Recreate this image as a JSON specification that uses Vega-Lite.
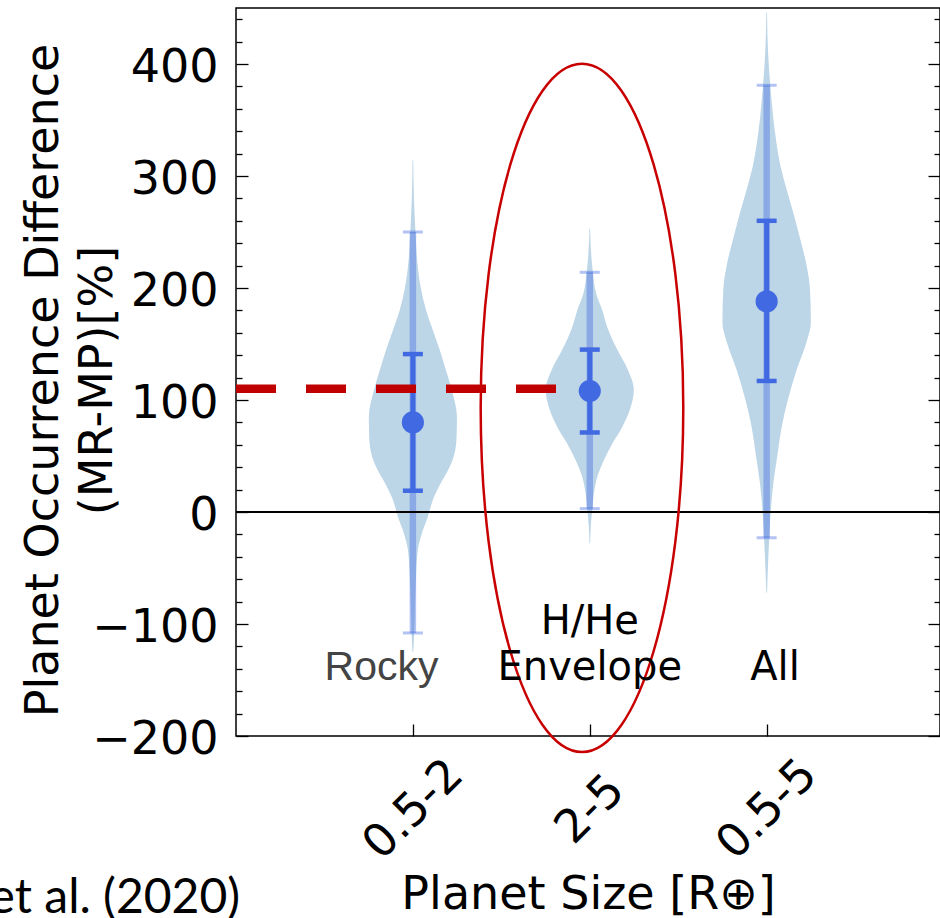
{
  "$schema": "https://vega.github.io/schema/vega-lite/v6.json",
  "width": 704,
  "height": 728,
  "autosize": {"type": "none"},
  "padding": {"left": 236, "top": 8, "right": 0, "bottom": 182},
  "config": {
    "font": "DejaVu Sans",
    "view": {"stroke": "#000", "strokeWidth": 1.5},
    "axis": {
      "grid": false,
      "domain": false,
      "labelFont": "DejaVu Sans",
      "titleFont": "DejaVu Sans",
      "labelColor": "#000",
      "titleColor": "#000",
      "tickColor": "#000",
      "tickWidth": 1.3,
      "labelFontSize": 46,
      "titleFontSize": 46,
      "titleFontWeight": "normal",
      "labelOverlap": false,
      "labelFlush": false
    }
  },
  "resolve": {"axis": {"x": "independent", "y": "independent"}},
  "datasets": {
    "violins": [
      {"g": "0.5-2", "v": 314, "lo": 0.998, "hi": 1.002},
      {"g": "0.5-2", "v": 280, "lo": 0.994, "hi": 1.006},
      {"g": "0.5-2", "v": 252, "lo": 0.986, "hi": 1.014},
      {"g": "0.5-2", "v": 225, "lo": 0.976, "hi": 1.024},
      {"g": "0.5-2", "v": 201, "lo": 0.956, "hi": 1.044},
      {"g": "0.5-2", "v": 180, "lo": 0.925, "hi": 1.075},
      {"g": "0.5-2", "v": 165, "lo": 0.893, "hi": 1.107},
      {"g": "0.5-2", "v": 145, "lo": 0.849, "hi": 1.151},
      {"g": "0.5-2", "v": 127, "lo": 0.814, "hi": 1.186},
      {"g": "0.5-2", "v": 109, "lo": 0.780, "hi": 1.220},
      {"g": "0.5-2", "v": 85, "lo": 0.751, "hi": 1.249},
      {"g": "0.5-2", "v": 67, "lo": 0.753, "hi": 1.247},
      {"g": "0.5-2", "v": 49, "lo": 0.770, "hi": 1.230},
      {"g": "0.5-2", "v": 37, "lo": 0.802, "hi": 1.198},
      {"g": "0.5-2", "v": 26, "lo": 0.842, "hi": 1.158},
      {"g": "0.5-2", "v": 11, "lo": 0.887, "hi": 1.113},
      {"g": "0.5-2", "v": -4, "lo": 0.915, "hi": 1.085},
      {"g": "0.5-2", "v": -19, "lo": 0.949, "hi": 1.051},
      {"g": "0.5-2", "v": -34, "lo": 0.972, "hi": 1.028},
      {"g": "0.5-2", "v": -60, "lo": 0.983, "hi": 1.017},
      {"g": "0.5-2", "v": -90, "lo": 0.989, "hi": 1.011},
      {"g": "0.5-2", "v": -110, "lo": 0.993, "hi": 1.007},
      {"g": "0.5-2", "v": -125, "lo": 0.998, "hi": 1.002},
      {"g": "2-5", "v": 253, "lo": 1.998, "hi": 2.002},
      {"g": "2-5", "v": 230, "lo": 1.992, "hi": 2.008},
      {"g": "2-5", "v": 215, "lo": 1.983, "hi": 2.017},
      {"g": "2-5", "v": 195, "lo": 1.964, "hi": 2.036},
      {"g": "2-5", "v": 180, "lo": 1.929, "hi": 2.071},
      {"g": "2-5", "v": 165, "lo": 1.901, "hi": 2.099},
      {"g": "2-5", "v": 145, "lo": 1.845, "hi": 2.155},
      {"g": "2-5", "v": 127, "lo": 1.785, "hi": 2.215},
      {"g": "2-5", "v": 109, "lo": 1.751, "hi": 2.249},
      {"g": "2-5", "v": 91, "lo": 1.774, "hi": 2.226},
      {"g": "2-5", "v": 76, "lo": 1.816, "hi": 2.184},
      {"g": "2-5", "v": 61, "lo": 1.873, "hi": 2.127},
      {"g": "2-5", "v": 46, "lo": 1.921, "hi": 2.079},
      {"g": "2-5", "v": 31, "lo": 1.958, "hi": 2.042},
      {"g": "2-5", "v": 16, "lo": 1.977, "hi": 2.023},
      {"g": "2-5", "v": 2, "lo": 1.986, "hi": 2.014},
      {"g": "2-5", "v": -12, "lo": 1.994, "hi": 2.006},
      {"g": "2-5", "v": -28, "lo": 1.998, "hi": 2.002},
      {"g": "0.5-5", "v": 446, "lo": 2.998, "hi": 3.002},
      {"g": "0.5-5", "v": 410, "lo": 2.992, "hi": 3.008},
      {"g": "0.5-5", "v": 382, "lo": 2.980, "hi": 3.020},
      {"g": "0.5-5", "v": 351, "lo": 2.962, "hi": 3.038},
      {"g": "0.5-5", "v": 330, "lo": 2.945, "hi": 3.055},
      {"g": "0.5-5", "v": 309, "lo": 2.922, "hi": 3.078},
      {"g": "0.5-5", "v": 288, "lo": 2.887, "hi": 3.113},
      {"g": "0.5-5", "v": 267, "lo": 2.849, "hi": 3.151},
      {"g": "0.5-5", "v": 246, "lo": 2.814, "hi": 3.186},
      {"g": "0.5-5", "v": 220, "lo": 2.774, "hi": 3.226},
      {"g": "0.5-5", "v": 199, "lo": 2.755, "hi": 3.245},
      {"g": "0.5-5", "v": 169, "lo": 2.750, "hi": 3.250},
      {"g": "0.5-5", "v": 152, "lo": 2.774, "hi": 3.226},
      {"g": "0.5-5", "v": 127, "lo": 2.830, "hi": 3.170},
      {"g": "0.5-5", "v": 102, "lo": 2.877, "hi": 3.123},
      {"g": "0.5-5", "v": 76, "lo": 2.915, "hi": 3.085},
      {"g": "0.5-5", "v": 51, "lo": 2.939, "hi": 3.061},
      {"g": "0.5-5", "v": 26, "lo": 2.962, "hi": 3.038},
      {"g": "0.5-5", "v": 0, "lo": 2.977, "hi": 3.023},
      {"g": "0.5-5", "v": -25, "lo": 2.986, "hi": 3.014},
      {"g": "0.5-5", "v": -50, "lo": 2.993, "hi": 3.007},
      {"g": "0.5-5", "v": -72, "lo": 2.998, "hi": 3.002}
    ],
    "stats": [
      {"g": "0.5-2", "c": 1, "mid": 80, "lo1": 19, "hi1": 141, "lo2": -108, "hi2": 250},
      {"g": "2-5", "c": 2, "mid": 108, "lo1": 71, "hi1": 145, "lo2": 3, "hi2": 214},
      {"g": "0.5-5", "c": 3, "mid": 188, "lo1": 117, "hi1": 260, "lo2": -23, "hi2": 381}
    ],
    "zero": [{"y": 0}],
    "refline": [{"x0": 0, "x1": 1.809, "y": 110}],
    "ellipse": [{"cx": 1.956, "cy": 93}],
    "notes": [
      {"label": "H/He", "x": 2.0, "y": -109},
      {"label": "Envelope", "x": 2.0, "y": -150},
      {"label": "All", "x": 3.047, "y": -150}
    ],
    "rocky": [{"label": "Rocky", "x": 0.8225, "y": -150}],
    "cite": [{"label": "et al. (2020)", "x": 0.023, "y": -358}]
  },
  "layer": [
    {
      "data": {"name": "violins"},
      "mark": {"type": "area", "orient": "horizontal", "interpolate": "monotone", "color": "#bcd6e8", "opacity": 1},
      "encoding": {
        "y": {
          "field": "v",
          "type": "quantitative",
          "scale": {"domain": [-200, 450], "nice": false, "zero": false},
          "axis": null
        },
        "x": {
          "field": "lo",
          "type": "quantitative",
          "scale": {"domain": [0, 3.98], "nice": false, "zero": false},
          "axis": null
        },
        "x2": {"field": "hi"},
        "detail": {"field": "g"}
      }
    },
    {
      "data": {"name": "stats"},
      "mark": {"type": "rule", "color": "#4169e1", "opacity": 0.4, "strokeWidth": 6.5},
      "encoding": {
        "x": {"field": "c", "type": "quantitative", "axis": null},
        "y": {
          "field": "lo2",
          "type": "quantitative",
          "axis": {
            "orient": "right",
            "values": [-200, -100, 0, 100, 200, 300, 400],
            "labels": false,
            "title": null,
            "tickSize": -12
          }
        },
        "y2": {"field": "hi2"}
      }
    },
    {
      "data": {"name": "stats"},
      "transform": [{"fold": ["lo2", "hi2"], "as": ["end", "val"]}],
      "mark": {"type": "tick", "orient": "horizontal", "color": "#4169e1", "opacity": 0.4, "size": 20, "thickness": 3},
      "encoding": {
        "x": {"field": "c", "type": "quantitative", "axis": null},
        "y": {
          "field": "val",
          "type": "quantitative",
          "axis": {
            "orient": "right",
            "values": [-180, -160, -140, -120, -80, -60, -40, -20, 20, 40, 60, 80, 120, 140, 160, 180, 220, 240, 260, 280, 320, 340, 360, 380, 420, 440],
            "labels": false,
            "title": null,
            "tickSize": -6
          }
        }
      }
    },
    {
      "data": {"name": "stats"},
      "mark": {"type": "rule", "color": "#4169e1", "opacity": 1, "strokeWidth": 5},
      "encoding": {
        "x": {"field": "c", "type": "quantitative", "axis": null},
        "y": {
          "field": "lo1",
          "type": "quantitative",
          "axis": {
            "orient": "left",
            "values": [-180, -160, -140, -120, -80, -60, -40, -20, 20, 40, 60, 80, 120, 140, 160, 180, 220, 240, 260, 280, 320, 340, 360, 380, 420, 440],
            "labels": false,
            "title": null,
            "tickSize": -6
          }
        },
        "y2": {"field": "hi1"}
      }
    },
    {
      "data": {"name": "stats"},
      "transform": [{"fold": ["lo1", "hi1"], "as": ["end", "val"]}],
      "mark": {"type": "tick", "orient": "horizontal", "color": "#4169e1", "opacity": 1, "size": 20, "thickness": 4.5},
      "encoding": {
        "x": {"field": "c", "type": "quantitative", "axis": null},
        "y": {"field": "val", "type": "quantitative", "axis": null}
      }
    },
    {
      "data": {"name": "stats"},
      "mark": {"type": "point", "shape": "circle", "filled": true, "color": "#4169e1", "opacity": 1, "size": 490},
      "encoding": {
        "x": {
          "field": "c",
          "type": "quantitative",
          "axis": {
            "orient": "bottom",
            "values": [1, 2, 3],
            "labelExpr": "datum.value === 1 ? '0.5-2' : datum.value === 2 ? '2-5' : '0.5-5'",
            "labelAngle": -45,
            "labelAlign": "center",
            "labelBaseline": "middle",
            "tickSize": -12,
            "labelPadding": 85,
            "title": "Planet Size [R⊕]",
            "titleX": 352,
            "titleY": 172,
            "titleAlign": "center",
            "titleBaseline": "alphabetic"
          }
        },
        "y": {
          "field": "mid",
          "type": "quantitative",
          "axis": {
            "orient": "left",
            "values": [-200, -100, 0, 100, 200, 300, 400],
            "tickSize": -12,
            "labelPadding": 30,
            "labelOffset": 3,
            "title": ["Planet Occurrence Difference", "(MR-MP)[%]"],
            "titleX": -179,
            "titleY": 372,
            "titleAlign": "center",
            "titleBaseline": "alphabetic",
            "titleLineHeight": 54
          }
        }
      }
    },
    {
      "data": {"name": "zero"},
      "mark": {"type": "rule", "color": "#000", "strokeWidth": 2},
      "encoding": {
        "y": {"field": "y", "type": "quantitative", "axis": null}
      }
    },
    {
      "data": {"name": "refline"},
      "mark": {"type": "rule", "color": "#c00000", "strokeWidth": 8.5, "strokeDash": [40, 30], "strokeCap": "butt"},
      "encoding": {
        "x": {"field": "x0", "type": "quantitative", "axis": null},
        "x2": {"field": "x1"},
        "y": {"field": "y", "type": "quantitative", "axis": null}
      }
    },
    {
      "data": {"name": "ellipse"},
      "mark": {
        "type": "point",
        "shape": "M 0 -1 C 0.1625 -1 0.2943 -0.5523 0.2943 0 C 0.2943 0.5523 0.1625 1 0 1 C -0.1625 1 -0.2943 0.5523 -0.2943 0 C -0.2943 -0.5523 -0.1625 -1 0 -1 Z",
        "size": 473900,
        "filled": false,
        "stroke": "#c80000",
        "strokeWidth": 2.5,
        "opacity": 1
      },
      "encoding": {
        "x": {"field": "cx", "type": "quantitative", "axis": null},
        "y": {"field": "cy", "type": "quantitative", "axis": null}
      }
    },
    {
      "data": {"name": "notes"},
      "mark": {"type": "text", "font": "DejaVu Sans", "fontSize": 40, "color": "#000", "align": "center", "baseline": "alphabetic"},
      "encoding": {
        "x": {"field": "x", "type": "quantitative", "axis": null},
        "y": {"field": "y", "type": "quantitative", "axis": null},
        "text": {"field": "label"}
      }
    },
    {
      "data": {"name": "rocky"},
      "mark": {"type": "text", "font": "Liberation Sans", "fontSize": 41, "color": "#444444", "align": "center", "baseline": "alphabetic"},
      "encoding": {
        "x": {"field": "x", "type": "quantitative", "axis": null},
        "y": {"field": "y", "type": "quantitative", "axis": null},
        "text": {"field": "label"}
      }
    },
    {
      "data": {"name": "cite"},
      "mark": {"type": "text", "font": "Lato", "fontSize": 48, "color": "#000", "align": "right", "baseline": "alphabetic"},
      "encoding": {
        "x": {"field": "x", "type": "quantitative", "axis": null},
        "y": {"field": "y", "type": "quantitative", "axis": null},
        "text": {"field": "label"}
      }
    }
  ]
}
